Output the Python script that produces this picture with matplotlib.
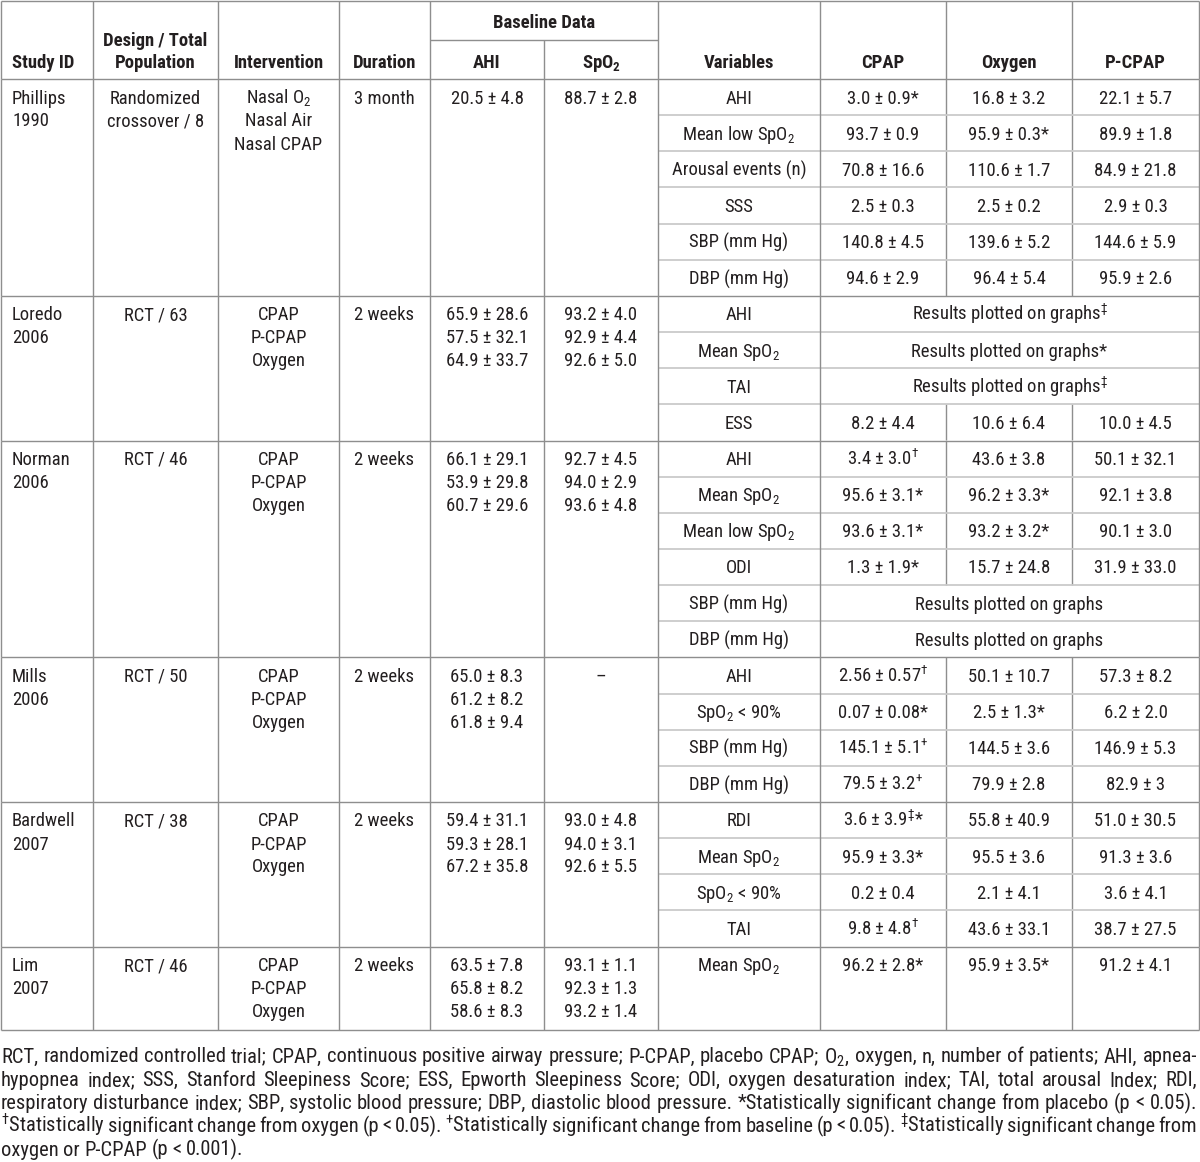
import matplotlib
matplotlib.use('Agg')
import matplotlib.pyplot as plt
from matplotlib import font_manager

# the source uses an Arial Narrow style face
names = {f.name for f in font_manager.fontManager.ttflist}
FONT = 'Liberation Sans'
for cand in ['Liberation Sans Narrow', 'Arial Narrow', 'Roboto Condensed', 'PT Sans Narrow', 'Archivo Narrow']:
    if cand in names:
        FONT = cand
        break
plt.rcParams['font.family'] = [FONT, 'Liberation Sans', 'DejaVu Sans']
plt.rcParams['mathtext.default'] = 'regular'

# ---- table contents ----
study_ids = ['Phillips\n1990', 'Loredo\n2006', 'Norman\n2006', 'Mills\n2006',
             'Bardwell\n2007', 'Lim\n2007']
designs = ['Randomized\ncrossover / 8', 'RCT / 63', 'RCT / 46', 'RCT / 50',
           'RCT / 38', 'RCT / 46']
interventions = ['Nasal O$_2$\nNasal Air\nNasal CPAP', 'CPAP\nP-CPAP\nOxygen',
                 'CPAP\nP-CPAP\nOxygen', 'CPAP\nP-CPAP\nOxygen',
                 'CPAP\nP-CPAP\nOxygen', 'CPAP\nP-CPAP\nOxygen']
durations = ['3 month', '2 weeks', '2 weeks', '2 weeks', '2 weeks', '2 weeks']
base_ahi = ['20.5 ± 4.8',
            '65.9 ± 28.6\n57.5 ± 32.1\n64.9 ± 33.7',
            '66.1 ± 29.1\n53.9 ± 29.8\n60.7 ± 29.6',
            '65.0 ± 8.3\n61.2 ± 8.2\n61.8 ± 9.4',
            '59.4 ± 31.1\n59.3 ± 28.1\n67.2 ± 35.8',
            '63.5 ± 7.8\n65.8 ± 8.2\n58.6 ± 8.3']
base_spo2 = ['88.7 ± 2.8',
             '93.2 ± 4.0\n92.9 ± 4.4\n92.6 ± 5.0',
             '92.7 ± 4.5\n94.0 ± 2.9\n93.6 ± 4.8',
             '–',
             '93.0 ± 4.8\n94.0 ± 3.1\n92.6 ± 5.5',
             '93.1 ± 1.1\n92.3 ± 1.3\n93.2 ± 1.4']

variables = [
    ['AHI', 'Mean low SpO$_2$', 'Arousal events (n)', 'SSS', 'SBP (mm Hg)', 'DBP (mm Hg)'],
    ['AHI', 'Mean SpO$_2$', 'TAI', 'ESS'],
    ['AHI', 'Mean SpO$_2$', 'Mean low SpO$_2$', 'ODI', 'SBP (mm Hg)', 'DBP (mm Hg)'],
    ['AHI', 'SpO$_2$ < 90%', 'SBP (mm Hg)', 'DBP (mm Hg)'],
    ['RDI', 'Mean SpO$_2$', 'SpO$_2$ < 90%', 'TAI'],
    ['Mean SpO$_2$'],
]
# None in oxygen / pcpap: the CPAP text spans all three result columns
cpap = [
    ['3.0 ± 0.9*', '93.7 ± 0.9', '70.8 ± 16.6', '2.5 ± 0.3', '140.8 ± 4.5', '94.6 ± 2.9'],
    ['Results plotted on graphs$^{‡}$', 'Results plotted on graphs*',
     'Results plotted on graphs$^{‡}$', '8.2 ± 4.4'],
    ['3.4 ± 3.0$^{†}$', '95.6 ± 3.1*', '93.6 ± 3.1*', '1.3 ± 1.9*',
     'Results plotted on graphs', 'Results plotted on graphs'],
    ['2.56 ± 0.57$^{†}$', '0.07 ± 0.08*', '145.1 ± 5.1$^{+}$', '79.5 ± 3.2$^{+}$'],
    ['3.6 ± 3.9$^{‡}$*', '95.9 ± 3.3*', '0.2 ± 0.4', '9.8 ± 4.8$^{†}$'],
    ['96.2 ± 2.8*'],
]
oxygen = [
    ['16.8 ± 3.2', '95.9 ± 0.3*', '110.6 ± 1.7', '2.5 ± 0.2', '139.6 ± 5.2', '96.4 ± 5.4'],
    [None, None, None, '10.6 ± 6.4'],
    ['43.6 ± 3.8', '96.2 ± 3.3*', '93.2 ± 3.2*', '15.7 ± 24.8', None, None],
    ['50.1 ± 10.7', '2.5 ± 1.3*', '144.5 ± 3.6', '79.9 ± 2.8'],
    ['55.8 ± 40.9', '95.5 ± 3.6', '2.1 ± 4.1', '43.6 ± 33.1'],
    ['95.9 ± 3.5*'],
]
pcpap = [
    ['22.1 ± 5.7', '89.9 ± 1.8', '84.9 ± 21.8', '2.9 ± 0.3', '144.6 ± 5.9', '95.9 ± 2.6'],
    [None, None, None, '10.0 ± 4.5'],
    ['50.1 ± 32.1', '92.1 ± 3.8', '90.1 ± 3.0', '31.9 ± 33.0', None, None],
    ['57.3 ± 8.2', '6.2 ± 2.0', '146.9 ± 5.3', '82.9 ± 3'],
    ['51.0 ± 30.5', '91.3 ± 3.6', '3.6 ± 4.1', '38.7 ± 27.5'],
    ['91.2 ± 4.1'],
]

footnote = [
    'RCT, randomized controlled trial; CPAP, continuous positive airway pressure; P-CPAP, placebo CPAP; '
    'O$_2$, oxygen, n, number of patients; AHI, apnea-',
    'hypopnea index; SSS, Stanford Sleepiness Score; ESS, Epworth Sleepiness Score; ODI, oxygen '
    'desaturation index; TAI, total arousal Index; RDI,',
    'respiratory disturbance index; SBP, systolic blood pressure; DBP, diastolic blood pressure. '
    '*Statistically significant change from placebo (p < 0.05).',
    '$^{†}$Statistically significant change from oxygen (p < 0.05). $^{+}$Statistically significant '
    'change from baseline (p < 0.05). $^{‡}$Statistically significant change from',
    'oxygen or P-CPAP (p < 0.001).',
]

# ---- layout ----
W, H = 1200, 1162
cols = [1, 93, 218, 339, 430, 544, 658, 820, 946, 1072, 1199]
mid = [(cols[i] + cols[i + 1]) / 2 for i in range(len(cols) - 1)]
HEAD_TOP, HEAD_MID, HEAD_BOT = 1, 40, 79
SUB_H = 36.15
LAST_H = 83
TXT = '#231f20'
DARK = '#8e8e8e'
LIGHT = '#cacaca'
LINE_GAP = 23

fig = plt.figure(figsize=(W / 100, H / 100), dpi=100)
ax = fig.add_axes([0, 0, 1, 1])
ax.set_xlim(0, W)
ax.set_ylim(H, 0)
ax.axis('off')
renderer = fig.canvas.get_renderer()


def text_width(s, fs):
    t = ax.text(0, 0, s, fontsize=fs)
    w = t.get_window_extent(renderer).width
    t.remove()
    return w


# size the font so "Arousal events (n)" is about as wide as in the source
FS = min(14.5, 13.5 * 134 / text_width('Arousal events (n)', 13.5))
# footnote: third line runs edge to edge with plain spaces in the source
FSN = min(FS * 1.12, FS * 1190 / text_width(footnote[2], FS))


def hline(y, x0, x1, color=DARK, lw=1.0):
    ax.plot([x0, x1], [y, y], color=color, lw=lw, solid_capstyle='butt')


def vline(x, y0, y1, color=DARK, lw=1.0):
    ax.plot([x, x], [y0, y1], color=color, lw=lw, solid_capstyle='butt')


def put(x, y, s, ha='center', bold=False):
    return ax.text(x, y, s, ha=ha, va='baseline', fontsize=FS, color=TXT,
                   fontweight='bold' if bold else 'normal')


def put_lines(x, top, s, ha='center'):
    for k, line in enumerate(s.split('\n')):
        put(x, top + 24.5 + k * LINE_GAP, line, ha=ha)


# header
put(12, 68.5, 'Study ID', ha='left', bold=True)
put(mid[1], 45.5, 'Design / Total', bold=True)
put(mid[1], 68.5, 'Population', bold=True)
put(mid[2], 68.5, 'Intervention', bold=True)
put(mid[3], 68.5, 'Duration', bold=True)
put((cols[4] + cols[6]) / 2, 28.5, 'Baseline Data', bold=True)
put(mid[4], 68.5, 'AHI', bold=True)
put(mid[5], 68.5, 'SpO$_2$', bold=True)
put(mid[6], 68.5, 'Variables', bold=True)
put(mid[7], 68.5, 'CPAP', bold=True)
put(mid[8], 68.5, 'Oxygen', bold=True)
put(mid[9], 68.5, 'P-CPAP', bold=True)

hline(HEAD_TOP, cols[0], cols[-1])
hline(HEAD_MID, cols[4], cols[6])
hline(HEAD_BOT, cols[0], cols[-1])
for x in cols:
    if x == cols[5]:
        vline(x, HEAD_MID, HEAD_BOT)
    else:
        vline(x, HEAD_TOP, HEAD_BOT)

# body
y = HEAD_BOT
for i in range(len(study_ids)):
    n = len(variables[i])
    hs = [SUB_H] * n if n > 1 else [LAST_H]
    top = y
    bottom = top + sum(hs)

    put_lines(12, top, study_ids[i], ha='left')
    put_lines(mid[1], top, designs[i])
    put_lines(mid[2], top, interventions[i])
    put_lines(mid[3], top, durations[i])
    put_lines(mid[4], top, base_ahi[i])
    put_lines(mid[5], top, base_spo2[i])

    sy = top
    for j in range(n):
        base = sy + 24.5
        put(mid[6], base, variables[i][j])
        if oxygen[i][j] is None:
            put((cols[7] + cols[10]) / 2, base, cpap[i][j])
        else:
            put(mid[7], base, cpap[i][j])
            put(mid[8], base, oxygen[i][j])
            put(mid[9], base, pcpap[i][j])
            vline(cols[8], sy, sy + hs[j])
            vline(cols[9], sy, sy + hs[j])
        if j > 0:
            hline(sy, cols[6], cols[10], color=LIGHT, lw=1.3)
        sy += hs[j]

    for k, x in enumerate(cols):
        if k not in (8, 9):
            vline(x, top, bottom)
    hline(bottom, cols[0], cols[-1])
    y = bottom

# footnote, justified like the source
fy = 1062.5
for li, line in enumerate(footnote):
    words = line.split(' ')
    texts = [ax.text(0, fy, w, ha='left', va='baseline', fontsize=FSN, color=TXT) for w in words]
    widths = [t.get_window_extent(renderer).width for t in texts]
    if li < len(footnote) - 1:
        gap = (1197 - 1 - sum(widths)) / (len(words) - 1)
    else:
        gap = 0.3 * FSN
    x = 1
    for t, w in zip(texts, widths):
        t.set_x(x)
        x += w + gap
    fy += LINE_GAP + 0.3

fig.savefig('out.png', dpi=100)
